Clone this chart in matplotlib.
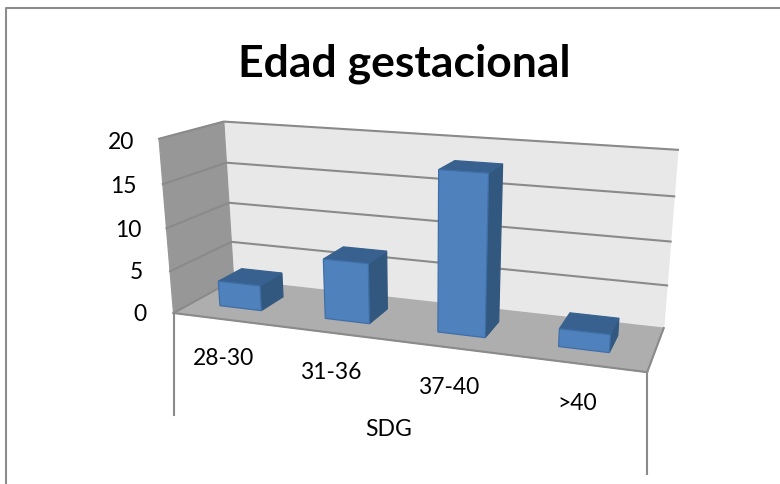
#importing the libraries
import numpy as np
import matplotlib
matplotlib.use("Agg")
import matplotlib.pyplot as plt
from matplotlib.patches import Polygon

# chart data
categories = ["28-30", "31-36", "37-40", ">40"]
values = [3, 7, 18, 2]
y_ticks = [0, 5, 10, 15, 20]
title = "Edad gestacional"
x_title = "SDG"

plt.rcParams['font.family'] = ['Lato', 'DejaVu Sans']

# box corners in (category, depth, value) and where they land on the picture
box = [(0, 0, 0), (1, 0, 0), (0, 1, 0), (1, 1, 0), (0, 0, 1), (1, 0, 1), (0, 1, 1), (1, 1, 1)]
screen = [(173, 312), (647, 373), (234, 283), (664, 329), (159, 139), (663, 178), (224, 123), (677, 148)]


# fit a perspective camera on the corners (DLT)
def fit_camera(box, screen):
    rows = []
    for (a, b, c), (px, py) in zip(box, screen):
        rows.append([a, b, c, 1, 0, 0, 0, 0, -px * a, -px * b, -px * c, -px])
        rows.append([0, 0, 0, 0, a, b, c, 1, -py * a, -py * b, -py * c, -py])
    return np.linalg.svd(np.array(rows, dtype=float))[2][-1].reshape(3, 4)


cam = fit_camera(box, screen)


# category position, depth and chart value to picture position
def project(u, d, v):
    p = cam @ np.array([u, d, v / 20.0, 1.0])
    return p[0] / p[2], p[1] / p[2]


def face(ax, pts, color, edge=None, lw=0.9, z=2):
    ax.add_patch(Polygon([project(*p) for p in pts], closed=True, facecolor=color,
                         edgecolor=edge if edge else color, linewidth=lw, zorder=z))


fig = plt.figure(figsize=(7.8, 4.85), dpi=100)
ax = fig.add_axes([0, 0, 1, 1])
ax.set_xlim(0, 780)
ax.set_ylim(485, 0)
ax.axis("off")

# outer frame
ax.plot([5.5, 5.5, 780], [485, 9, 9], color="#8c8c8c", lw=1.5, zorder=1)

# walls and floor
face(ax, [(0, 1, 0), (1, 1, 0), (1, 1, 20), (0, 1, 20)], "#e8e8e8", z=1)
face(ax, [(0, 0, 0), (0, 1, 0), (0, 1, 20), (0, 0, 20)], "#979797", z=1)
face(ax, [(0, 0, 0), (1, 0, 0), (1, 1, 0), (0, 1, 0)], "#aeaeae", z=2)

# gridlines on both walls
for t in y_ticks[1:]:
    line = [project(0, 0, t), project(0, 1, t), project(1, 1, t)]
    ax.plot([p[0] for p in line], [p[1] for p in line], color="#8a8a8a", lw=1.5, zorder=1.5)

# floor edges and drop lines
for a, b in [((0, 0, 0), (1, 0, 0)), ((1, 0, 0), (1, 1, 0)), ((0, 0, 0), (0, 1, 0))]:
    pa, pb = project(*a), project(*b)
    ax.plot([pa[0], pb[0]], [pa[1], pb[1]], color="#8a8a8a", lw=1.5, zorder=2.1)
for u in [0, 1]:
    px, py = project(u, 0, 0)
    ax.plot([px, px], [py, py + 102], color="#8a8a8a", lw=1.5, zorder=1)

# bars
n = len(values)
half = 0.2 / n
d0, d1 = 0.3, 0.7
for i, v in enumerate(values):
    c = (i + 0.5) / n - 0.008
    u0, u1 = c - half, c + half
    face(ax, [(u1, d0, 0), (u1, d1, 0), (u1, d1, v), (u1, d0, v)], "#32587f", z=3)
    face(ax, [(u0, d0, v), (u1, d0, v), (u1, d1, v), (u0, d1, v)], "#38618f", z=3)
    face(ax, [(u0, d0, 0), (u1, d0, 0), (u1, d0, v), (u0, d0, v)], "#4f81bd", edge="#3f6fa8", z=3.1)

# text
ax.text(404, 64, title, fontsize=32, fontweight="bold", ha="center", va="center", color="black")
tick_x = [146, 143, 141, 137, 134]
tick_y = [315, 273, 231, 187, 143]
for t, x, y in zip(y_ticks, tick_x, tick_y):
    ax.text(x, y, str(t), fontsize=16.5, ha="right", va="center", color="black")
label_x = [223, 331, 449, 577.5]
label_y = [359, 373, 388, 404]
for lab, x, y in zip(categories, label_x, label_y):
    ax.text(x, y, lab, fontsize=16.5, ha="center", va="center", color="black")
ax.text(388.5, 430, x_title, fontsize=16.5, ha="center", va="center", color="black")

fig.savefig("out.png", dpi=100)
